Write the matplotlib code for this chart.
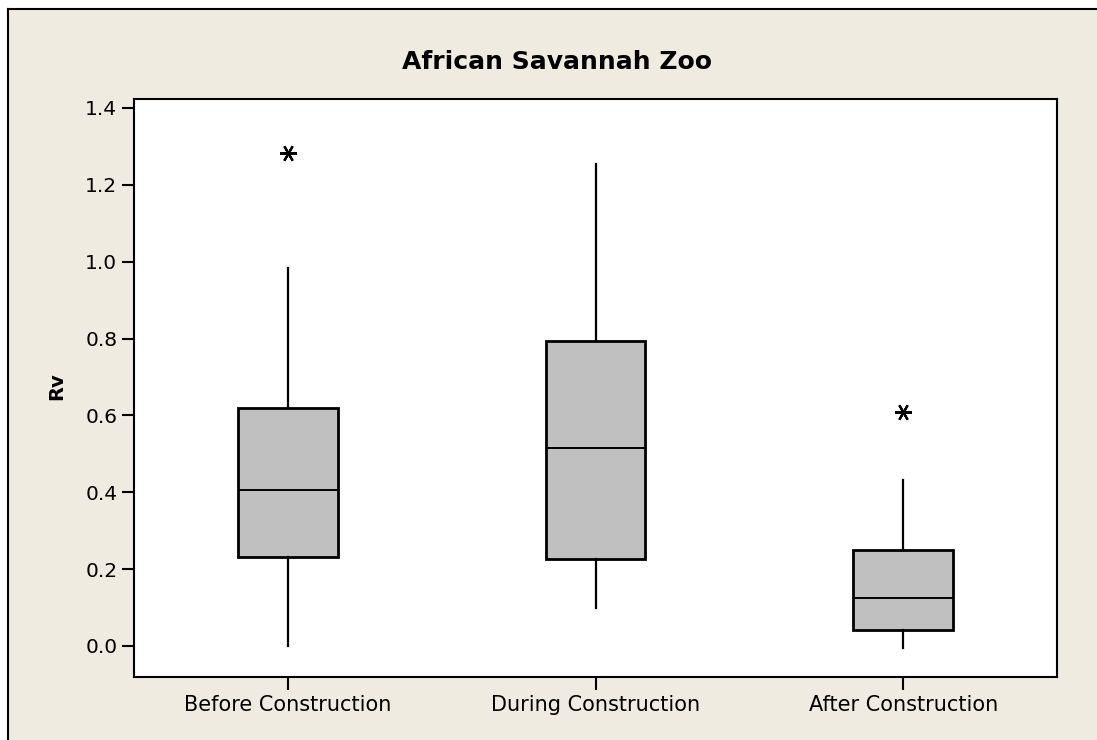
import matplotlib.pyplot as plt
from matplotlib.lines import Line2D

# Valores
grupos = ["Before Construction", "During Construction", "After Construction"]
whisker_inf = [0.000, 0.099, -0.005]
q1 = [0.232, 0.226, 0.042]
mediana = [0.406, 0.515, 0.125]
q3 = [0.619, 0.794, 0.250]
whisker_sup = [0.984, 1.254, 0.432]
outliers = [[1.283], [], [0.609]]

fundo = "#EFEBE1"

plt.rcParams["font.family"] = ["DejaVu Sans"]

fig = plt.figure(figsize=(10.97, 7.40), dpi=100)
fig.patch.set_facecolor("white")

# fundo bege com moldura (borda esquerda e superior visiveis)
fig.add_artist(plt.Rectangle((8 / 1097, 0), 1, 1 - 9 / 740, transform=fig.transFigure,
                             facecolor=fundo, edgecolor="none", zorder=-5))
fig.add_artist(Line2D([8 / 1097, 8 / 1097], [0, 1 - 9 / 740], color="black", lw=1.5,
                      transform=fig.transFigure))
fig.add_artist(Line2D([8 / 1097, 1], [1 - 9 / 740, 1 - 9 / 740], color="black", lw=1.5,
                      transform=fig.transFigure))

ax = fig.add_axes([134 / 1097, 1 - 677 / 740, (1057 - 134) / 1097, (677 - 99) / 740])
ax.set_zorder(5)
ax.set_facecolor("white")

stats = []
for i, nome in enumerate(grupos):
    stats.append({
        "label": nome,
        "whislo": whisker_inf[i],
        "q1": q1[i],
        "med": mediana[i],
        "q3": q3[i],
        "whishi": whisker_sup[i],
        "fliers": outliers[i],
    })

ax.bxp(
    stats,
    positions=[1, 2, 3],
    widths=0.325,
    patch_artist=True,
    showcaps=False,
    boxprops=dict(facecolor="#C0C0C0", edgecolor="black", linewidth=2),
    medianprops=dict(color="black", linewidth=1.4),
    whiskerprops=dict(color="black", linewidth=1.6),
    flierprops=dict(marker=(6, 2, 30), markersize=12, markeredgecolor="black",
                    markeredgewidth=1.6, linestyle="none"),
)

ax.set_xlim(0.5, 3.5)
ax.set_ylim(-0.0807, 1.4234)
ax.set_yticks([0.0, 0.2, 0.4, 0.6, 0.8, 1.0, 1.2, 1.4])
ax.set_yticklabels([f"{v:.1f}" for v in ax.get_yticks()])

for lado in ax.spines.values():
    lado.set_linewidth(1.5)
    lado.set_color("black")

ax.tick_params(axis="both", direction="out", length=9, width=1.5, colors="black")
ax.tick_params(axis="x", labelsize=15, pad=4)
ax.tick_params(axis="y", labelsize=14.5, pad=3)

fig.text(557 / 1097, 1 - 62 / 740, "African Savannah Zoo", ha="center", va="center",
         fontsize=18, fontweight="bold")
fig.text(57 / 1097, 1 - 386 / 740, "Rv", ha="center", va="center", rotation=90,
         fontsize=14, fontweight="bold")

fig.savefig("out.png", dpi=100, facecolor=fig.get_facecolor())
